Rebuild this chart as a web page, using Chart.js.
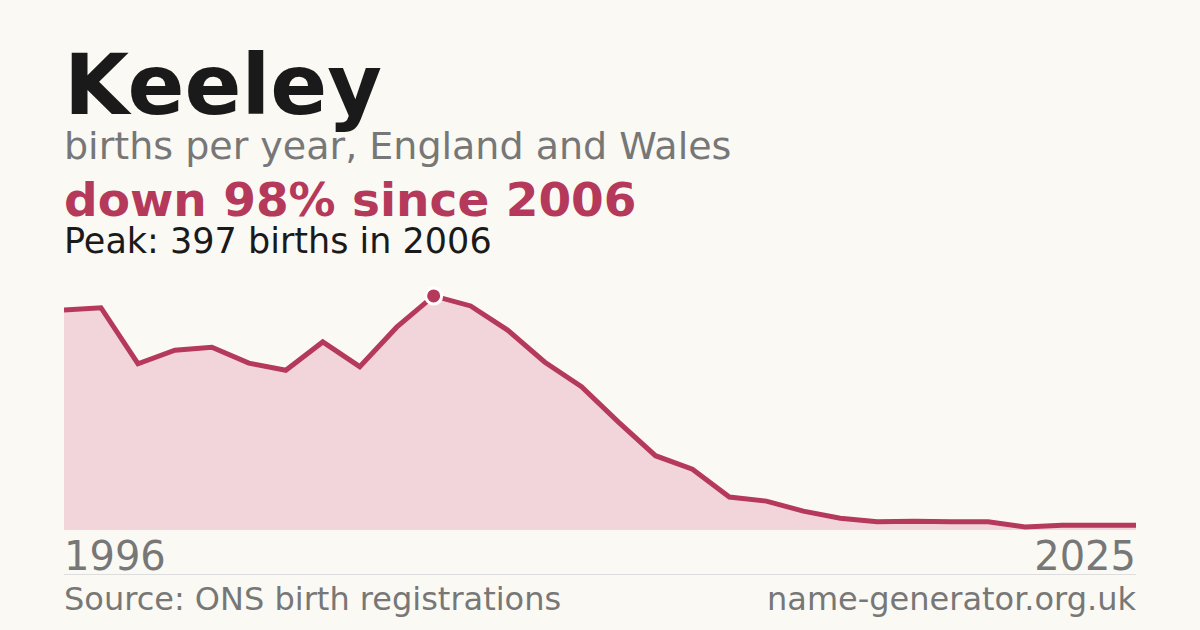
<!DOCTYPE html>
<html><head><meta charset="utf-8">
<script src="https://cdn.jsdelivr.net/npm/chart.js"></script>
<style>
body{margin:0;width:1200px;height:630px;background:#faf9f4;font-family:"DejaVu Sans",sans-serif;position:relative;overflow:hidden}
.t{position:absolute;left:64px;white-space:nowrap}
#wrap{position:absolute;left:64px;top:280px;width:1072px;height:250px}
</style></head><body>
<div class="t" style="top:36px;font-size:84px;font-weight:bold;color:#1a1a1a">Keeley</div>
<div class="t" style="top:124px;font-size:38px;color:#777">births per year, England and Wales</div>
<div class="t" style="top:172px;font-size:47px;font-weight:bold;color:#b5395a">down 98% since 2006</div>
<div class="t" style="top:221px;font-size:35px;color:#1a1a1a">Peak: 397 births in 2006</div>
<div id="wrap"><canvas id="c"></canvas></div>
<div class="t" style="top:533px;font-size:40px;color:#777">1996</div>
<div class="t" style="top:533px;left:auto;right:64px;font-size:40px;color:#777">2025</div>
<div style="position:absolute;left:64px;width:1072px;top:574px;height:1px;background:#ddd"></div>
<div class="t" style="top:580px;font-size:32px;color:#777">Source: ONS birth registrations</div>
<div class="t" style="top:580px;left:auto;right:64px;font-size:32px;color:#777">name-generator.org.uk</div>
<script>
const years=[];for(let y=1996;y<=2025;y++)years.push(String(y));
const births=[373,377,282,305,310,283,271,319,277,344,397,380,339,285,243,183,126,103,56,49,32,20,14,15,14,14,5,8,8,8];
const peakIndex=10;
new Chart(document.getElementById('c'),{type:'line',
data:{labels:years,datasets:[{data:births,borderColor:'#b5395a',borderWidth:5,backgroundColor:'#f2d5db',fill:'origin',tension:0,clip:false,
pointRadius:births.map((v,i)=>i===peakIndex?8:0),pointBackgroundColor:'#b5395a',pointBorderColor:'#fff',pointBorderWidth:3}]},
options:{responsive:true,maintainAspectRatio:false,animation:false,layout:{padding:0},
plugins:{legend:{display:false},tooltip:{enabled:false}},
scales:{x:{display:false,offset:false},y:{display:false,min:0,max:424}}}});
</script></body></html>
